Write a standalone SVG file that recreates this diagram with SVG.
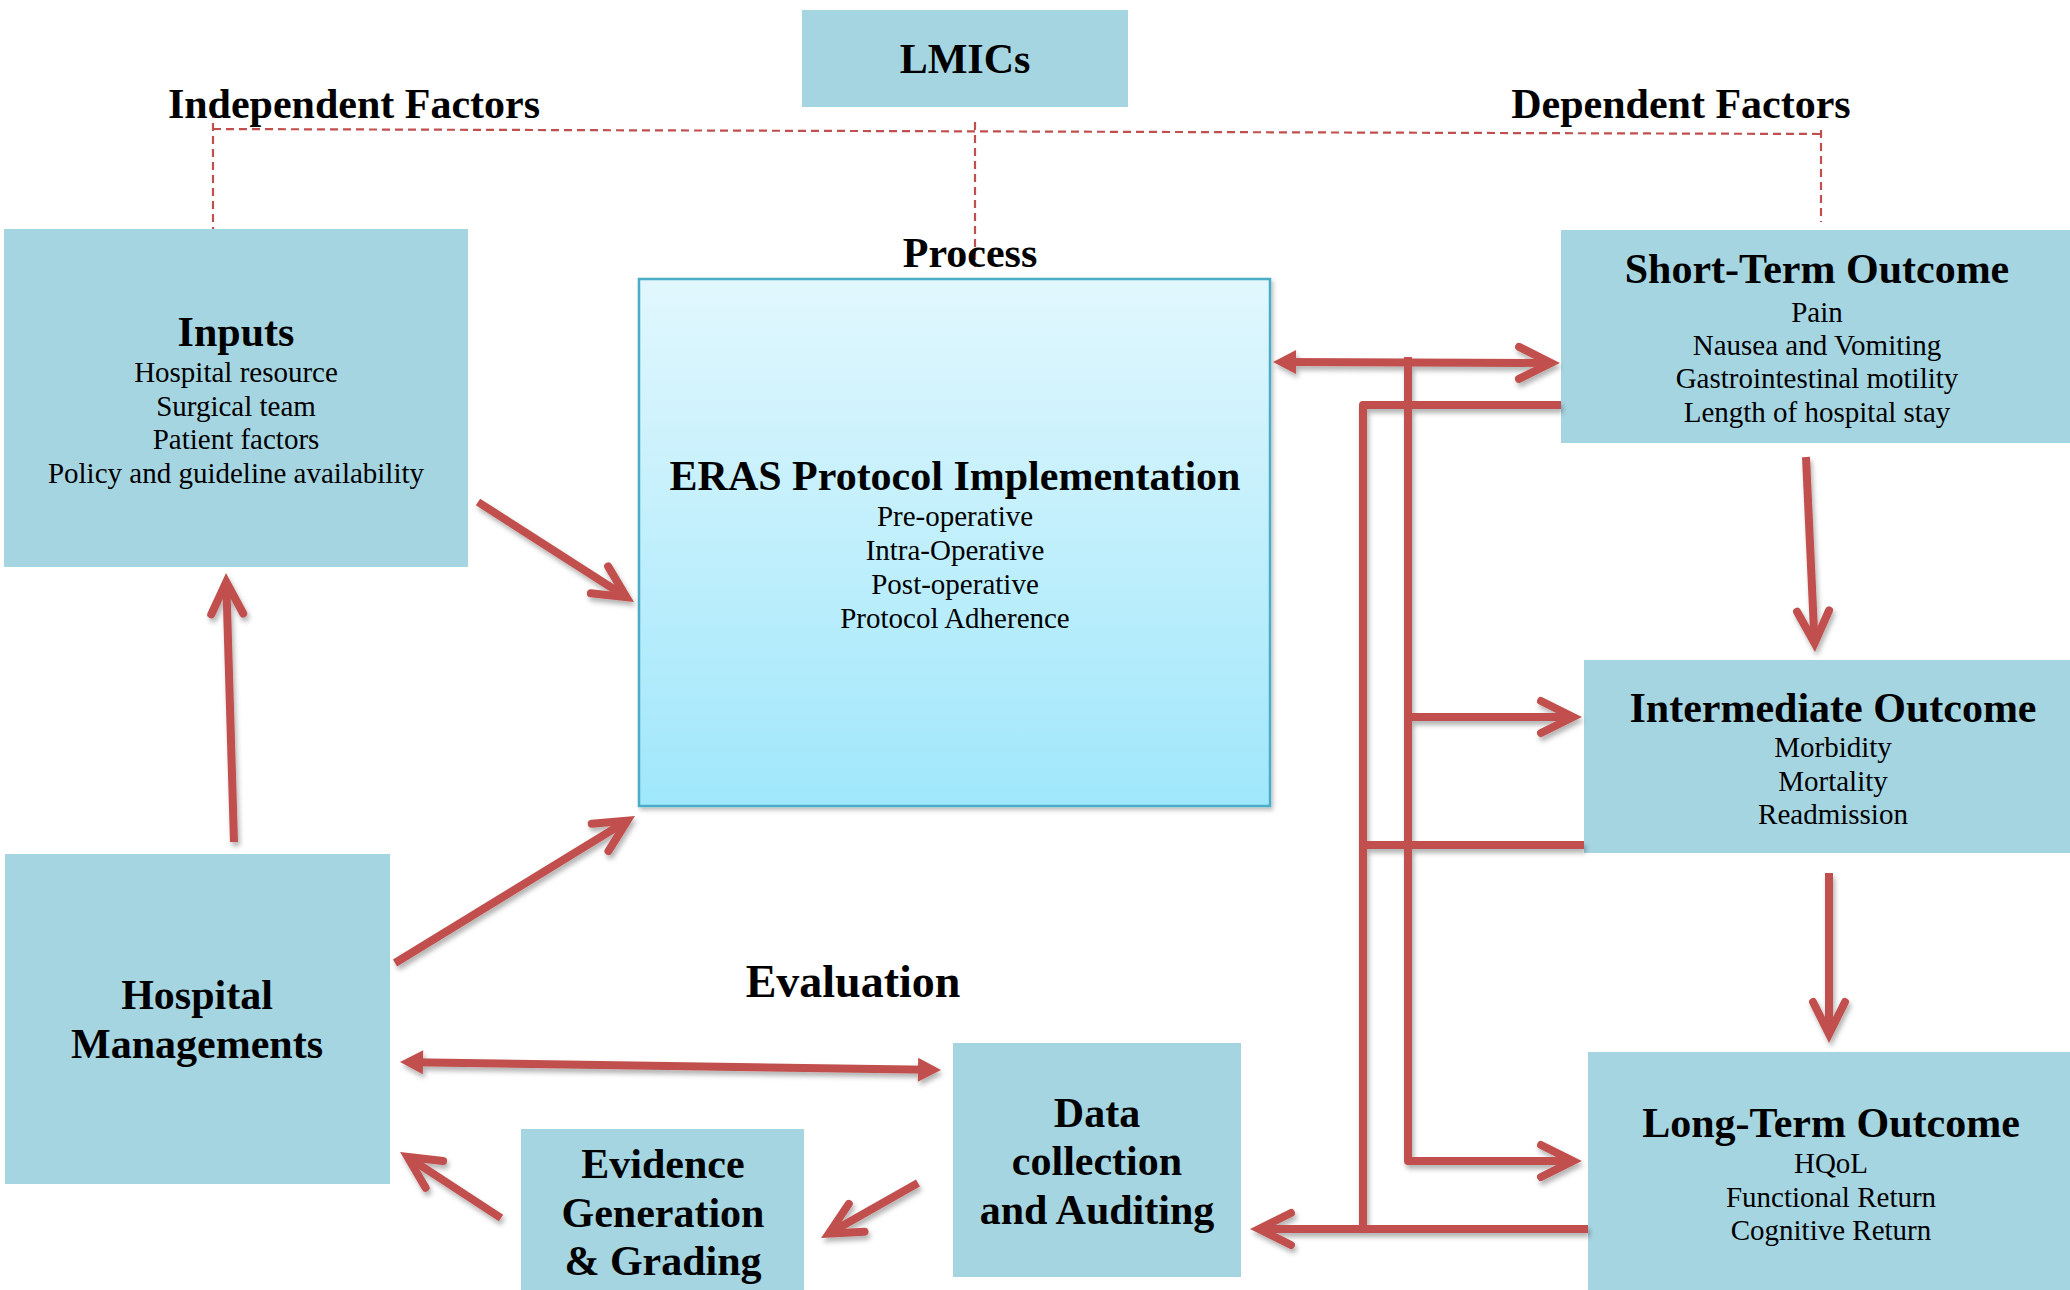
<svg xmlns="http://www.w3.org/2000/svg" width="2070" height="1290" viewBox="0 0 2070 1290">
  <style>
    .box { fill: #A6D5E2; }
    .t { font-family: "Liberation Serif", "Times New Roman", serif; fill: #000; text-anchor: middle; }
    .h { font-weight: bold; font-size: 42px; }
    .s { font-size: 29px; }
    .ev { font-weight: bold; font-size: 46px; }
    .conn { fill: none; stroke: #C0504D; stroke-width: 8; stroke-linejoin: round; }
    .dash { fill: none; stroke: #C0504D; stroke-width: 2.2; stroke-dasharray: 8 5; }
  </style>
  <defs>
    <linearGradient id="erasGrad" x1="0" y1="0" x2="0" y2="1">
      <stop offset="0" stop-color="#E1F7FD"/>
      <stop offset="1" stop-color="#A0E7FB"/>
    </linearGradient>
    <filter id="shadow" x="-10%" y="-10%" width="120%" height="120%">
      <feDropShadow dx="2" dy="4" stdDeviation="2.5" flood-color="#000" flood-opacity="0.3"/>
    </filter>
    <filter id="boxShadow" x="-5%" y="-5%" width="110%" height="110%">
      <feDropShadow dx="2" dy="3" stdDeviation="2" flood-color="#000" flood-opacity="0.25"/>
    </filter>
    <marker id="chev" markerUnits="userSpaceOnUse" orient="auto-start-reverse" markerWidth="80" markerHeight="80" refX="0" refY="0" overflow="visible">
      <path d="M-31,-16 L1,0 L-31,16" fill="none" stroke="#C0504D" stroke-width="8" stroke-linecap="round" stroke-linejoin="miter"/>
    </marker>
    <marker id="tri" markerUnits="userSpaceOnUse" orient="auto-start-reverse" markerWidth="80" markerHeight="80" refX="0" refY="0" overflow="visible">
      <path d="M12,0 L-11,-12 L-11,12 Z" fill="#C0504D"/>
    </marker>
  </defs>

  <rect width="2070" height="1290" fill="#FFFFFF"/>

  <!-- dashed framework lines -->
  <g id="framework-lines">
    <path class="dash" d="M213,129 L1821,134"/>
    <path class="dash" d="M213,110 L213,236"/>
    <path class="dash" d="M975,122 L975,267"/>
    <path class="dash" d="M1821,130 L1821,222"/>
  </g>

  <!-- labels -->
  <g id="labels">
    <text class="t h" x="354" y="118">Independent Factors</text>
    <text class="t h" x="1681" y="118">Dependent Factors</text>
    <text class="t h" x="970" y="267">Process</text>
    <text class="t ev" x="853" y="997">Evaluation</text>
  </g>

  <g id="lmics">
    <rect class="box" x="802" y="10" width="326" height="97"/>
    <text class="t h" x="965" y="73">LMICs</text>
  </g>

  <g id="inputs">
    <rect class="box" x="4" y="229" width="464" height="338"/>
    <text class="t h" x="236" y="346">Inputs</text>
    <text class="t s" x="236" y="382">Hospital resource</text>
    <text class="t s" x="236" y="416">Surgical team</text>
    <text class="t s" x="236" y="449">Patient factors</text>
    <text class="t s" x="236" y="483">Policy and guideline availability</text>
  </g>

  <g id="eras">
    <rect x="639" y="279" width="631" height="527" fill="url(#erasGrad)" stroke="#4BACC6" stroke-width="2.5" filter="url(#boxShadow)"/>
    <text class="t h" x="955" y="490">ERAS Protocol Implementation</text>
    <text class="t s" x="955" y="526">Pre-operative</text>
    <text class="t s" x="955" y="560">Intra-Operative</text>
    <text class="t s" x="955" y="594">Post-operative</text>
    <text class="t s" x="955" y="628">Protocol Adherence</text>
  </g>

  <g id="short-term">
    <rect class="box" x="1561" y="230" width="509" height="213"/>
    <text class="t h" x="1817" y="283">Short-Term Outcome</text>
    <text class="t s" x="1817" y="322">Pain</text>
    <text class="t s" x="1817" y="355">Nausea and Vomiting</text>
    <text class="t s" x="1817" y="388">Gastrointestinal motility</text>
    <text class="t s" x="1817" y="422">Length of hospital stay</text>
  </g>

  <g id="intermediate">
    <rect class="box" x="1584" y="660" width="486" height="193"/>
    <text class="t h" x="1833" y="722">Intermediate Outcome</text>
    <text class="t s" x="1833" y="757">Morbidity</text>
    <text class="t s" x="1833" y="791">Mortality</text>
    <text class="t s" x="1833" y="824">Readmission</text>
  </g>

  <g id="long-term">
    <rect class="box" x="1588" y="1052" width="482" height="238"/>
    <text class="t h" x="1831" y="1137">Long-Term Outcome</text>
    <text class="t s" x="1831" y="1173">HQoL</text>
    <text class="t s" x="1831" y="1207">Functional Return</text>
    <text class="t s" x="1831" y="1240">Cognitive Return</text>
  </g>

  <g id="data-collection">
    <rect class="box" x="953" y="1043" width="288" height="234"/>
    <text class="t h" x="1097" y="1127">Data</text>
    <text class="t h" x="1097" y="1175">collection</text>
    <text class="t h" x="1097" y="1224">and Auditing</text>
  </g>

  <g id="hospital-managements">
    <rect class="box" x="5" y="854" width="385" height="330"/>
    <text class="t h" x="197" y="1009">Hospital</text>
    <text class="t h" x="197" y="1058">Managements</text>
  </g>

  <g id="evidence">
    <rect class="box" x="521" y="1129" width="283" height="161"/>
    <text class="t h" x="663" y="1178">Evidence</text>
    <text class="t h" x="663" y="1227">Generation</text>
    <text class="t h" x="663" y="1275">&amp; Grading</text>
  </g>

  <!-- connectors -->
  <g id="connectors" filter="url(#shadow)">
    <path class="conn" d="M478,502 L625.6,596.6" marker-end="url(#chev)"/>
    <path class="conn" d="M395,963 L626.5,821.2" marker-end="url(#chev)"/>
    <path class="conn" d="M234,842 L226.3,583" marker-end="url(#chev)"/>
    <path class="conn" d="M412,1062.2 L929,1069.8" marker-start="url(#tri)" marker-end="url(#tri)"/>
    <path class="conn" d="M501,1218 L408.4,1157.5" marker-end="url(#chev)"/>
    <path class="conn" d="M918,1183 L829.7,1233.1" marker-end="url(#chev)"/>
    <path class="conn" d="M1806,457 L1814.5,642" marker-end="url(#chev)"/>
    <path class="conn" d="M1829,873 L1829,1033" marker-end="url(#chev)"/>
    <path class="conn" d="M1285,362 L1550,363" marker-start="url(#tri)" marker-end="url(#chev)"/>
    <path class="conn" d="M1408,357 L1408,1161 L1572,1161" marker-end="url(#chev)"/>
    <path class="conn" d="M1408,717 L1572,717" marker-end="url(#chev)"/>
    <path class="conn" d="M1561,405 L1363,405 L1363,1229"/>
    <path class="conn" d="M1584,845 L1363,845"/>
    <path class="conn" d="M1588,1229 L1260,1229" marker-end="url(#chev)"/>
  </g>
</svg>
